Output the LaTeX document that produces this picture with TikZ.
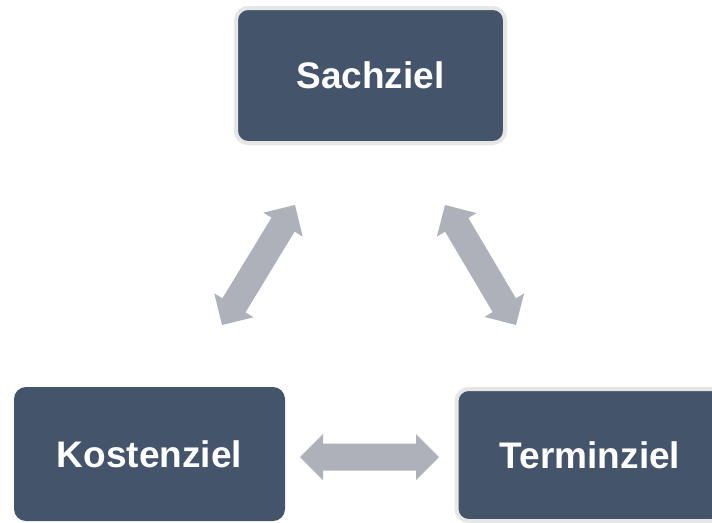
\documentclass[tikz,border=0pt]{standalone}
\usepackage{fontspec}
\setmainfont{Liberation Sans}
\usetikzlibrary{calc}

\definecolor{boxblue}{HTML}{44546A}
\definecolor{arrowgray}{HTML}{AEB1B9}
\definecolor{rimgray}{HTML}{E6E6E6}

\tikzset{
  goal/.style={rectangle, rounded corners=12pt, fill=boxblue, text=white,
    font=\bfseries\fontsize{37}{44}\selectfont, inner sep=0pt},
  rimmed/.style={draw=rimgray, line width=4pt},
}

% Double-headed block arrow between two named tips
\newcommand\fatarrow[2]{%
  \path ($(#1)!23pt!(#2)$) coordinate (#1h)
        ($(#2)!23pt!(#1)$) coordinate (#2h);
  \fill[arrowgray] (#1)
    -- ($(#1h)!23pt!90:(#2)$) -- ($(#1h)!13.5pt!90:(#2)$)
    -- ($(#2h)!13.5pt!-90:(#1)$) -- ($(#2h)!23pt!-90:(#1)$)
    -- (#2)
    -- ($(#2h)!23pt!90:(#1)$) -- ($(#2h)!13.5pt!90:(#1)$)
    -- ($(#1h)!13.5pt!-90:(#2)$) -- ($(#1h)!23pt!-90:(#2)$)
    -- cycle;
}

\begin{document}
\begin{tikzpicture}[x=1pt, y=-1pt]
  \clip (0,0) rectangle (712,522);
  \fill[white] (0,0) rectangle (712,522);

  % goal boxes
  \node[goal, rimmed, minimum width=269pt, minimum height=135pt] (sach) at (370.5,75.5) {Sachziel};
  \node[goal, minimum width=271pt, minimum height=134pt] (kosten) at (149.5,454) {Kostenziel};
  \node[goal, rimmed, minimum width=267pt, minimum height=132pt] (termin) at (590,455) {Terminziel};

  % arrow tips
  \coordinate (lb) at (222,325);
  \coordinate (lt) at (295,205);
  \coordinate (rt) at (445,205);
  \coordinate (rb) at (516,325);
  \coordinate (hl) at (300,457);
  \coordinate (hr) at (439,457);

  \fatarrow{lb}{lt}
  \fatarrow{rt}{rb}
  \fatarrow{hl}{hr}
\end{tikzpicture}
\end{document}
